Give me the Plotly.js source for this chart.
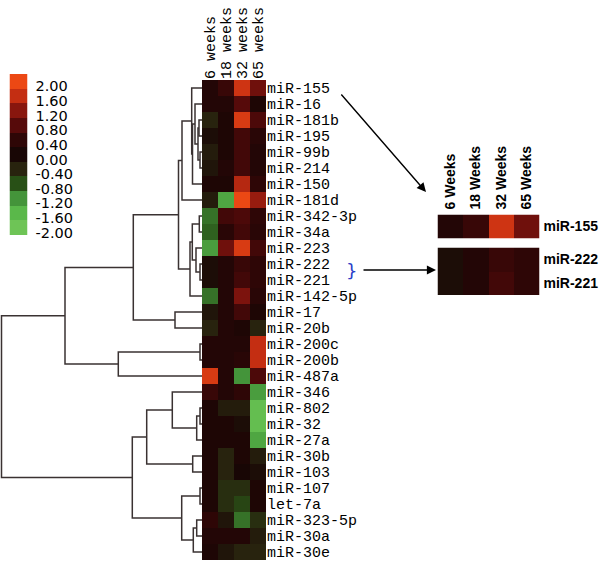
<!DOCTYPE html>
<html>
<head>
<meta charset="utf-8">
<script src="https://cdn.plot.ly/plotly-3.0.1.min.js"></script>
<style>html,body{margin:0;padding:0;background:#fff;}#chart{width:600px;height:562px;}</style>
</head>
<body>
<div id="chart"></div>
<script>
// ---- data ----
const rowLabels = ["miR-155","miR-16","miR-181b","miR-195","miR-99b","miR-214","miR-150","miR-181d",
  "miR-342-3p","miR-34a","miR-223","miR-222","miR-221","miR-142-5p","miR-17","miR-20b",
  "miR-200c","miR-200b","miR-487a","miR-346","miR-802","miR-32","miR-27a","miR-30b",
  "miR-103","miR-107","let-7a","miR-323-5p","miR-30a","miR-30e"];
const colLabels = ["6 weeks","18 weeks","32 weeks","65 weeks"];
const miniColLabels = ["6 Weeks","18 Weeks","32 Weeks","65 Weeks"];
const w6  = [0.2,0.2,-0.4,-0.1,-0.3,-0.2,0.1,-0.3,-1.0,-0.9,-1.3,-0.1,-0.1,-1.0,-0.2,-0.4,0.2,0.2,1.8,0.5,0.1,0.1,0.1,0.1,0.1,0.1,0.1,0.4,0.2,0.1];
const w18 = [0.5,0.2,0.1,0.1,0.1,0.2,0.1,-1.4,0.6,0.3,1.0,0.2,0.2,0.2,0.2,0.2,0.2,0.2,0.2,0.2,-0.3,0.1,0.1,-0.4,-0.4,-0.5,-0.5,-0.2,0.2,-0.2];
const w32 = [1.7,0.8,1.8,0.6,0.6,0.6,1.5,2.0,0.7,0.6,1.8,0.5,0.6,1.1,0.6,0.1,0.2,0.3,-1.2,0.4,-0.3,-0.1,0.1,0.1,0.0,-0.5,-0.7,-1.0,0.2,-0.4];
const w65 = [1.0,0.1,0.7,0.3,0.2,0.2,0.4,1.3,0.4,0.3,0.6,0.4,0.4,0.3,0.1,-0.4,1.6,1.6,0.7,-1.3,-1.8,-1.8,-1.4,-0.3,-0.1,0.1,0.1,-0.5,-0.3,-0.4];
const legendValues = [2.0,1.6,1.2,0.8,0.4,0.0,-0.4,-0.8,-1.2,-1.6,-2.0];
const miniRowsA = ["miR-155"];
const miniRowsB = ["miR-222","miR-221"];
// dendrogram merges: [childA, childB, height]; leaves 0..29, merged nodes 30+
const merges = [
  [2,3,0.015],[4,5,0.01],[30,31,0.02],[1,32,0.035],[33,6,0.0475],[0,34,0.0515],[35,7,0.10],
  [8,9,0.0135],[11,12,0.01],[10,38,0.03],[37,39,0.0485],[40,13,0.06],[36,41,0.1175],
  [14,15,0.135],[42,43,0.3435],[16,17,0.01],[45,18,0.4185],[44,46,0.685],
  [20,21,0.01],[48,22,0.0265],[19,49,0.1485],[23,24,0.0465],[50,51,0.2765],
  [25,26,0.01],[27,28,0.0265],[54,29,0.0435],[53,55,0.1015],[52,56,0.3485],[47,57,1.0025]
];

// ---- colours ----
const scaleColors = ["rgb(110,196,86)","rgb(90,184,74)","rgb(68,148,58)","rgb(40,80,22)","rgb(40,35,14)",
  "rgb(24,6,5)","rgb(46,6,6)","rgb(86,10,10)","rgb(136,22,14)","rgb(196,46,18)","rgb(236,72,20)"];
const colorscale = scaleColors.map((c,i)=>[i/10,c]);

// ---- build ----
const nLeaves = rowLabels.length;
const z = rowLabels.map((_,i)=>[w6[i],w18[i],w32[i],w65[i]]);
const pos = [], hgt = [];
for (let i=0;i<nLeaves;i++){pos[i]=i;hgt[i]=0;}
const dx=[], dy=[];
merges.forEach((m,k)=>{
  const [a,b,h]=m, id=nLeaves+k;
  dx.push(hgt[a],h,h,hgt[b],null);
  dy.push(pos[a],pos[a],pos[b],pos[b],null);
  pos[id]=(pos[a]+pos[b])/2; hgt[id]=h;
});
const idx = r => rowLabels.indexOf(r);
const monoFont = {family:"Liberation Mono, Courier New, monospace", size:15, color:"#000"};
const boldFont = {family:"Liberation Sans, Arial, sans-serif", size:14, color:"#000", weight:"bold"};

const traces = [
  {type:"scatter", mode:"lines", x:dx, y:dy, xaxis:"x", yaxis:"y",
   line:{color:"#3a3232", width:1.5}, hoverinfo:"skip", connectgaps:false},
  {type:"heatmap", z:z, x:[0,1,2,3], y:rowLabels.map((_,i)=>i), xaxis:"x2", yaxis:"y",
   colorscale:colorscale, zmin:-2, zmax:2, showscale:false},
  {type:"heatmap", z:legendValues.map(v=>[v]), x:[0], y:legendValues.map((_,i)=>i), xaxis:"x3", yaxis:"y3",
   colorscale:colorscale, zmin:-2, zmax:2, showscale:false},
  {type:"heatmap", z:miniRowsA.map(r=>z[idx(r)]), x:[0,1,2,3], y:miniRowsA.map((_,i)=>i), xaxis:"x4", yaxis:"y4",
   colorscale:colorscale, zmin:-2, zmax:2, showscale:false},
  {type:"heatmap", z:miniRowsB.map(r=>z[idx(r)]), x:[0,1,2,3], y:miniRowsB.map((_,i)=>i), xaxis:"x5", yaxis:"y5",
   colorscale:colorscale, zmin:-2, zmax:2, showscale:false}
];

const P = v => (562 - v)/562;
const X = v => v/600;
const hidden = {visible:false, showgrid:false, zeroline:false, fixedrange:true};
const layout = {
  width:600, height:562, margin:{l:0,r:0,t:0,b:0},
  paper_bgcolor:"#fff", plot_bgcolor:"rgba(0,0,0,0)", showlegend:false,
  xaxis:Object.assign({}, hidden, {domain:[0,X(202)], range:[1.01,0], anchor:"y"}),
  xaxis2:{domain:[X(202),X(266)], range:[-0.5,3.5], side:"top", anchor:"y",
    tickvals:[0,1,2,3], ticktext:colLabels, tickangle:-90, tickfont:monoFont, ticklabeloverflow:"allow",
    showgrid:false, zeroline:false, showline:false, ticks:""},
  yaxis:{domain:[P(560),P(80)], range:[nLeaves-0.5,-0.5], side:"right", anchor:"x2",
    tickvals:rowLabels.map((_,i)=>i), ticktext:rowLabels, tickfont:monoFont, ticklabeloverflow:"allow",
    showgrid:false, zeroline:false, showline:false, ticks:""},
  xaxis3:Object.assign({}, hidden, {domain:[X(9.5),X(27.5)], range:[-0.5,0.5], anchor:"y3"}),
  yaxis3:{domain:[P(235),P(74)], range:[legendValues.length-0.5,-0.5], side:"right", anchor:"x3",
    tickvals:legendValues.map((_,i)=>i), ticktext:legendValues.map(v=>v.toFixed(2)),
    tickfont:{family:"DejaVu Sans, sans-serif", size:14.5, color:"#000"}, ticklabelshift:-5, ticklabelstandoff:7,
    showgrid:false, zeroline:false, showline:false, ticks:""},
  xaxis4:{domain:[X(437.5),X(539.5)], range:[-0.5,3.5], side:"top", anchor:"y4",
    tickvals:[0,1,2,3], ticktext:miniColLabels, tickangle:-90, tickfont:boldFont,
    showgrid:false, zeroline:false, showline:false, ticks:"", ticklabelstandoff:4},
  yaxis4:{domain:[P(238.5),P(214.5)], range:[0.5,-0.5], side:"right", anchor:"x4",
    tickvals:[0], ticktext:miniRowsA, tickfont:boldFont,
    showgrid:false, zeroline:false, showline:false, ticks:"", ticklabelstandoff:3},
  xaxis5:Object.assign({}, hidden, {domain:[X(437.5),X(539.5)], range:[-0.5,3.5], anchor:"y5"}),
  yaxis5:{domain:[P(295),P(247.5)], range:[1.5,-0.5], side:"right", anchor:"x5",
    tickvals:[0,1], ticktext:miniRowsB, tickfont:boldFont,
    showgrid:false, zeroline:false, showline:false, ticks:"", ticklabelstandoff:3},
  annotations:[
    {xref:"paper", yref:"paper", axref:"paper", ayref:"paper", x:X(426), y:P(192), ax:X(340), ay:P(93),
     text:"", showarrow:true, arrowhead:2, arrowsize:1.3, arrowwidth:1.4, arrowcolor:"#000"},
    {xref:"paper", yref:"paper", axref:"paper", ayref:"paper", x:X(436), y:P(270), ax:X(362), ay:P(270),
     text:"", showarrow:true, arrowhead:2, arrowsize:1.3, arrowwidth:1.4, arrowcolor:"#000"},
    {xref:"paper", yref:"paper", x:X(351), y:P(271), text:"}", showarrow:false,
     font:{family:"DejaVu Sans, sans-serif", size:18, color:"#2a3ec8"}}
  ]
};
Plotly.newPlot("chart", traces, layout, {staticPlot:true, displayModeBar:false});
</script>
</body>
</html>
